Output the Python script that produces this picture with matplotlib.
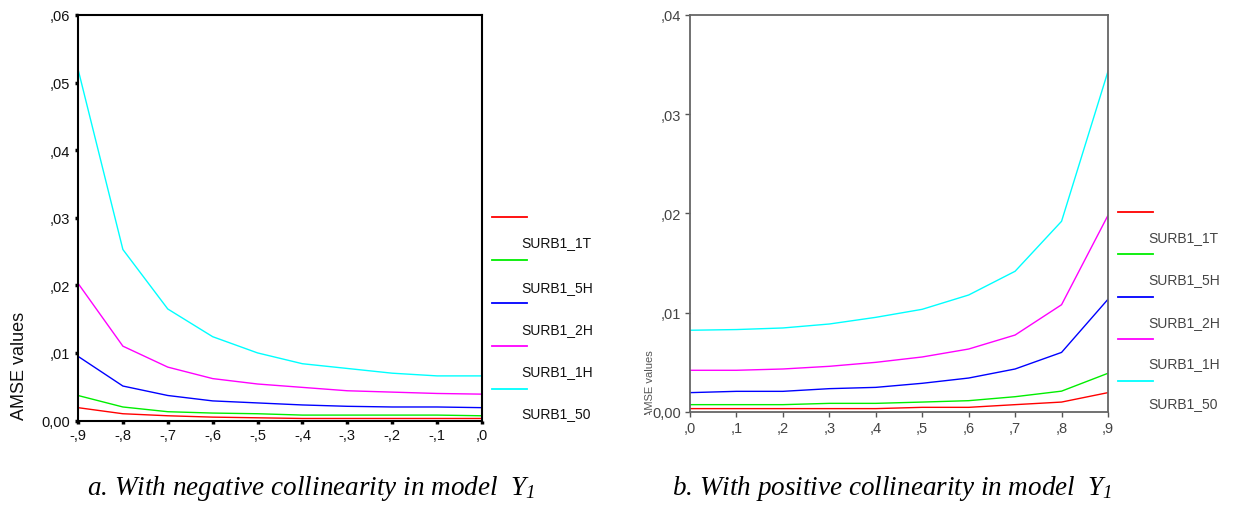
import matplotlib
matplotlib.use("Agg")
import matplotlib.pyplot as plt
from matplotlib.lines import Line2D
from matplotlib.transforms import Bbox

plt.rcParams['font.family'] = ['Liberation Sans', 'DejaVu Sans']
plt.rcParams['mathtext.fontset'] = 'custom'
plt.rcParams['mathtext.it'] = 'Liberation Serif:italic'
plt.rcParams['mathtext.rm'] = 'Liberation Serif:italic'

series_names = ['SURB1_1T', 'SURB1_5H', 'SURB1_2H', 'SURB1_1H', 'SURB1_50']
series_colors = ['#ff0000', '#00ee00', '#0000ff', '#ff00ff', '#00ffff']

# negative collinearity, rho = -0.9 ... 0
rho_neg = [-0.9, -0.8, -0.7, -0.6, -0.5, -0.4, -0.3, -0.2, -0.1, 0.0]
neg_labels = ['-,9', '-,8', '-,7', '-,6', '-,5', '-,4', '-,3', '-,2', '-,1', ',0']
amse_neg = {
    'SURB1_1T': [0.0019, 0.0010, 0.0007, 0.0005, 0.0004, 0.0003, 0.0003, 0.0003, 0.0003, 0.0003],
    'SURB1_5H': [0.0037, 0.0020, 0.0013, 0.0011, 0.0010, 0.0008, 0.0008, 0.0008, 0.0008, 0.0007],
    'SURB1_2H': [0.0095, 0.0051, 0.0037, 0.0029, 0.0026, 0.0023, 0.0021, 0.0020, 0.0020, 0.0019],
    'SURB1_1H': [0.0203, 0.0110, 0.0079, 0.0062, 0.0054, 0.0049, 0.0044, 0.0042, 0.0040, 0.0039],
    'SURB1_50': [0.0520, 0.0253, 0.0165, 0.0124, 0.0100, 0.0084, 0.0077, 0.0070, 0.0066, 0.0066],
}

# positive collinearity, rho = 0 ... 0.9
rho_pos = [0.0, 0.1, 0.2, 0.3, 0.4, 0.5, 0.6, 0.7, 0.8, 0.9]
pos_labels = [',0', ',1', ',2', ',3', ',4', ',5', ',6', ',7', ',8', ',9']
amse_pos = {
    'SURB1_1T': [0.00034, 0.00034, 0.00034, 0.00034, 0.00034, 0.00047, 0.00047, 0.00074, 0.0010, 0.00195],
    'SURB1_5H': [0.00074, 0.00074, 0.00074, 0.00087, 0.00087, 0.0010, 0.00114, 0.00154, 0.0021, 0.0039],
    'SURB1_2H': [0.00195, 0.00208, 0.00208, 0.00235, 0.00248, 0.00289, 0.00342, 0.00433, 0.0060, 0.01135],
    'SURB1_1H': [0.0042, 0.0042, 0.00433, 0.0046, 0.0050, 0.00554, 0.00634, 0.00775, 0.0108, 0.0198],
    'SURB1_50': [0.00823, 0.0083, 0.00846, 0.00886, 0.00953, 0.01034, 0.01178, 0.01417, 0.0192, 0.0343],
}

neg_yticks = [0.0, 0.01, 0.02, 0.03, 0.04, 0.05, 0.06]
neg_ylabels = ['0,00', ',01', ',02', ',03', ',04', ',05', ',06']
pos_yticks = [0.0, 0.01, 0.02, 0.03, 0.04]
pos_ylabels = ['0,00', ',01', ',02', ',03', ',04']

W, H = 1236, 506
fig = plt.figure(figsize=(W / 100, H / 100), dpi=100)


def px_axes(x0, y0, x1, y1):
    return fig.add_axes([x0 / W, 1 - y1 / H, (x1 - x0) / W, (y1 - y0) / H])


def px(x, y):
    return x / W, 1 - y / H


def draw_legend(x_line, line_ys, x_text, text_ys, color):
    for c, ly in zip(series_colors, line_ys):
        fig.add_artist(Line2D([px(x_line, ly)[0], px(x_line + 35, ly)[0]],
                              [px(0, ly)[1]] * 2, color=c, lw=1.3,
                              transform=fig.transFigure))
    for name, ty in zip(series_names, text_ys):
        fig.text(*px(x_text, ty), name, fontsize=10, color=color, va='center')


# left panel
ax1 = px_axes(78, 16, 482, 421.5)
for name, c in zip(series_names, series_colors):
    ax1.plot(rho_neg, amse_neg[name], color=c, lw=1.0)
ax1.set_xlim(-0.9, 0.0)
ax1.set_ylim(0, 0.06)
ax1.set_xticks(rho_neg)
ax1.set_xticklabels(neg_labels)
ax1.set_yticks(neg_yticks)
ax1.set_yticklabels(neg_ylabels)
for s in ax1.spines.values():
    s.set_color('black')
    s.set_linewidth(1.5)
ax1.tick_params(length=2.5, width=2.5, color='black', labelsize=10.5,
                labelcolor='#111111', pad=3)
fig.text(*px(20, 366), 'AMSE values', fontsize=13, rotation=90,
         ha='center', va='center', color='#111111')

draw_legend(492, [218, 261, 304, 347, 390], 521, [243, 288, 330, 372, 414], '#111111')

# right panel
ax2 = px_axes(690, 15.7, 1108, 413)
for name, c in zip(series_names, series_colors):
    ax2.plot(rho_pos, amse_pos[name], color=c, lw=1.0)
ax2.set_xlim(0.0, 0.9)
ax2.set_ylim(0, 0.04)
ax2.set_xticks(rho_pos)
ax2.set_xticklabels(pos_labels)
ax2.set_yticks(pos_yticks)
ax2.set_yticklabels(pos_ylabels)
for s in ax2.spines.values():
    s.set_color('#666666')
    s.set_linewidth(1.3)
ax2.tick_params(length=3.5, width=1.0, color='#555555', labelsize=10.5,
                labelcolor='#444444', pad=3)

# partly hidden axis title on the right panel
lbl = fig.text(*px(650, 384), 'AMSE values', fontsize=8, color='#555555',
               rotation=90, ha='center', va='center')
lbl.set_clip_box(Bbox.from_extents(630, H - 416, 654, H - 350))
lbl.set_clip_on(True)

draw_legend(1118, [213, 255, 298, 340, 382], 1148, [238, 280, 323, 364, 404], '#444444')

# captions
fig.text(*px(311, 489), r'a. With negative collinearity in model  $Y_1$',
         family='Liberation Serif', style='italic', fontsize=19.5,
         ha='center', va='center')
fig.text(*px(892, 489), r'b. With positive collinearity in model  $Y_1$',
         family='Liberation Serif', style='italic', fontsize=19.5,
         ha='center', va='center')

fig.savefig('out.png', dpi=100)
